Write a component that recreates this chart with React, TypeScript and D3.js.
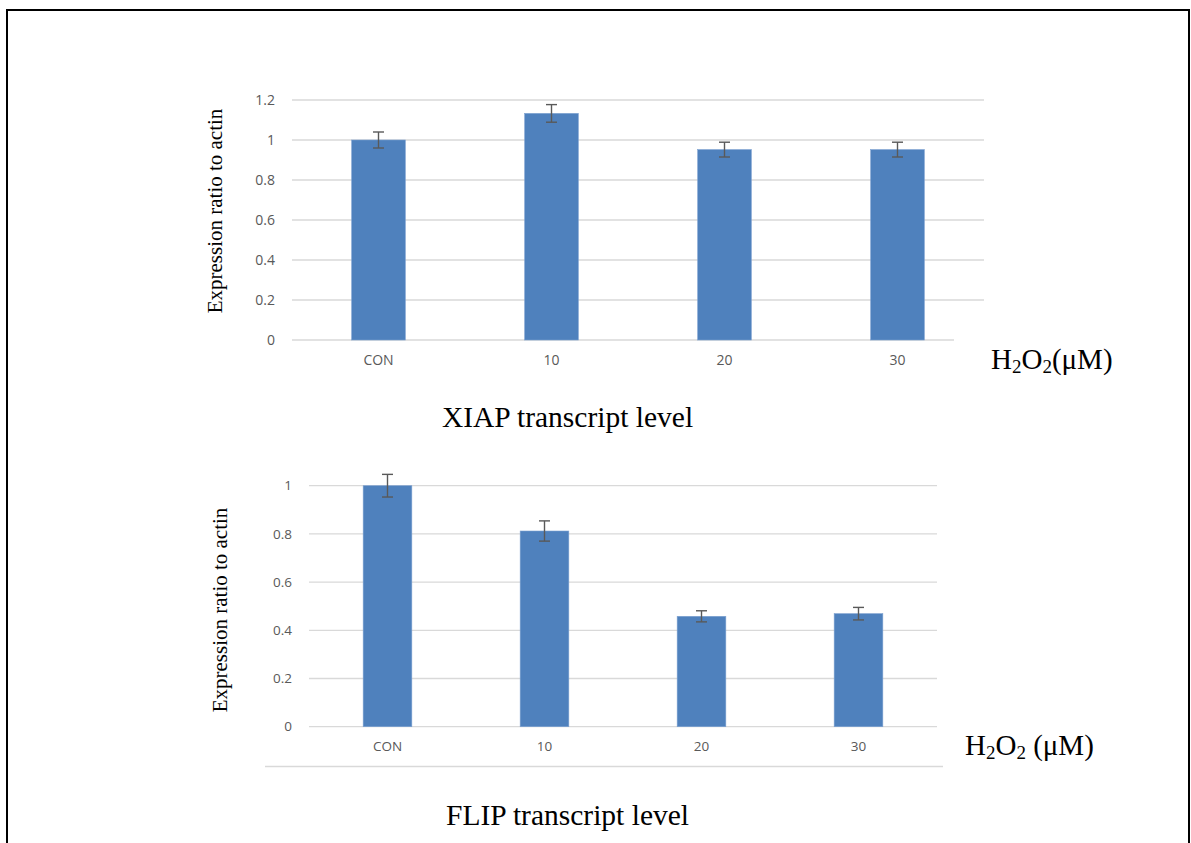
import React from 'react';
import * as d3 from 'd3';

const categories = ['CON', '10', '20', '30'];
const xiapValues = [1.0, 1.133, 0.952, 0.952];
const xiapErrors = [0.04, 0.044, 0.037, 0.037];
const xiapTicks = [0, 0.2, 0.4, 0.6, 0.8, 1, 1.2];
const flipValues = [1.0, 0.812, 0.458, 0.469];
const flipErrors = [0.047, 0.042, 0.023, 0.026];
const flipTicks = [0, 0.2, 0.4, 0.6, 0.8, 1];

const BAR = '#4f81bd';
const GRID = '#d9d9d9';
const TICK = '#595959';
const ERR = '#595959';
const SERIF = '"Liberation Serif", "Times New Roman", serif';
const SANS = '"Open Sans", "Liberation Sans", sans-serif';

type PanelProps = {
  values: number[];
  errors: number[];
  ticks: number[];
  x0: number; x1: number; y0: number; y1: number;
  baselineEnd: number;
  tickFont: number;
  labelY: number;
  ytitleX: number; ytitleY: number;
};

function Panel(p: PanelProps) {
  const x = d3.scaleBand<string>().domain(categories).range([p.x0, p.x1]).paddingInner(0.69).paddingOuter(0.345);
  const y = d3.scaleLinear().domain([0, p.ticks[p.ticks.length - 1]]).range([p.y0, p.y1]);
  const fmt = (t: number) => (t === 0 ? '0' : d3.format('~g')(t));
  const cap = 5.5;
  return (
    <g>
      {p.ticks.map((t) => (
        <g key={t}>
          <line x1={p.x0} x2={t === 0 ? p.baselineEnd : p.x1} y1={y(t)} y2={y(t)} stroke={GRID} strokeWidth={1.3} />
          <text x={p.x0 - 17} y={y(t)} dy="0.35em" textAnchor="end" fontFamily={SANS} fontSize={p.tickFont} fill={TICK}>{fmt(t)}</text>
        </g>
      ))}
      {categories.map((c, i) => {
        const bx = x(c)!;
        const cx = bx + x.bandwidth() / 2;
        const v = p.values[i];
        const e = p.errors[i];
        return (
          <g key={c}>
            <rect x={bx} y={y(v)} width={x.bandwidth()} height={y(0) - y(v)} fill={BAR} stroke="#7ba0d0" strokeWidth={0.6} />
            <line x1={cx} x2={cx} y1={y(v + e)} y2={y(v - e)} stroke={ERR} strokeWidth={1.4} />
            <line x1={cx - cap} x2={cx + cap} y1={y(v + e)} y2={y(v + e)} stroke={ERR} strokeWidth={1.4} />
            <line x1={cx - cap} x2={cx + cap} y1={y(v - e)} y2={y(v - e)} stroke={ERR} strokeWidth={1.4} />
            <text x={cx} y={p.labelY} dy="0.35em" textAnchor="middle" fontFamily={SANS} fontSize={p.tickFont} fill={TICK}>{c}</text>
          </g>
        );
      })}
      <text transform={`translate(${p.ytitleX},${p.ytitleY}) rotate(-90)`} textAnchor="middle" fontFamily={SERIF} fontSize={21} fill="#000">Expression ratio to actin</text>
    </g>
  );
}

export default function App() {
  return (
    <svg width={1191} height={843} style={{ position: 'absolute', left: 0, top: 0, background: '#fff' }}>
      <rect x={0} y={0} width={1191} height={843} fill="#fff" />
      <path d="M7,843 L7,10 L1189,10 L1189,843" fill="none" stroke="#000" strokeWidth={2} />
      <Panel values={xiapValues} errors={xiapErrors} ticks={xiapTicks}
        x0={292} x1={984} y0={340} y1={100} baselineEnd={954} tickFont={14}
        labelY={360} ytitleX={222} ytitleY={211} />
      <Panel values={flipValues} errors={flipErrors} ticks={flipTicks}
        x0={309} x1={937} y0={726.7} y1={485.7} baselineEnd={937} tickFont={13.5}
        labelY={746.7} ytitleX={227} ytitleY={610} />
      <line x1={265} x2={943} y1={766.5} y2={766.5} stroke={GRID} strokeWidth={1.3} />
      <text x={991} y={369} fontFamily={SERIF} fontSize={29} fill="#000">H<tspan fontSize={19} dy={4}>2</tspan><tspan dy={-4}>O</tspan><tspan fontSize={19} dy={4}>2</tspan><tspan dy={-4}>(μM)</tspan></text>
      <text x={965} y={755} fontFamily={SERIF} fontSize={29} fill="#000">H<tspan fontSize={19} dy={4}>2</tspan><tspan dy={-4}>O</tspan><tspan fontSize={19} dy={4}>2</tspan><tspan dy={-4}> (μM)</tspan></text>
      <text x={567.5} y={427} textAnchor="middle" fontFamily={SERIF} fontSize={29.5} fill="#000">XIAP transcript level</text>
      <text x={567.5} y={825} textAnchor="middle" fontFamily={SERIF} fontSize={29.5} fill="#000">FLIP transcript level</text>
    </svg>
  );
}
